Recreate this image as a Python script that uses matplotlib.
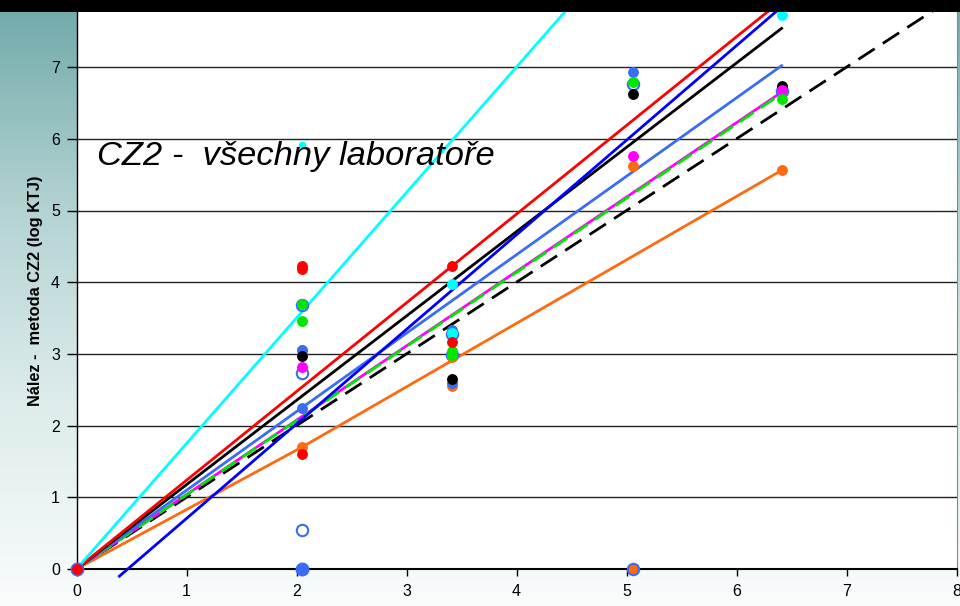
import numpy as np
import matplotlib
matplotlib.use("Agg")
import matplotlib.pyplot as plt
from matplotlib.colors import LinearSegmentedColormap
from matplotlib.patches import Rectangle

# Dilution levels (log KTJ, reference method)
x_levels = [0.0, 2.05, 3.41, 5.06, 6.41]

# Regression lines per laboratory: x and y end points
line_ident_x = [0.0, 8.0]
line_ident_y = [0.0, 8.0]
line_red_x = [0.0, 3.41, 6.41]
line_red_y = [0.0, 4.22, 7.93]
line_cyan_x = [0.0, 6.41]
line_cyan_y = [0.0, 11.22]
line_blue_x = [0.39, 6.41]
line_blue_y = [-0.10, 7.84]
line_black_x = [0.0, 6.41]
line_black_y = [0.0, 7.54]
line_lblue_x = [0.0, 2.05, 6.41]
line_lblue_y = [0.0, 2.25, 7.02]
line_magenta_x = [0.0, 6.41]
line_magenta_y = [0.0, 6.65]
line_green_x = [0.0, 6.41]
line_green_y = [0.0, 6.63]
line_orange_x = [0.0, 2.05, 6.41]
line_orange_y = [0.0, 1.70, 5.56]

# Individual results (x, y) per laboratory
pts_open_x = [2.05, 2.05, 2.05, 3.41, 3.41, 5.06, 6.41]
pts_open_y = [3.68, 2.73, 0.54, 3.28, 2.98, 6.77, 6.66]
pts_orange_x = [2.05, 2.05, 3.41, 3.41, 5.06, 5.06, 6.41]
pts_orange_y = [3.05, 1.70, 2.95, 2.55, 5.62, 0.0, 5.56]
pts_lblue_x = [0.0, 2.05, 2.05, 2.05, 3.41, 3.41, 5.06, 6.41]
pts_lblue_y = [0.0, 3.05, 2.25, 0.0, 3.33, 2.60, 6.93, 6.71]
pts_black_x = [2.05, 3.41, 5.06, 6.41]
pts_black_y = [2.97, 2.65, 6.63, 6.74]
pts_magenta_x = [2.05, 5.06, 6.41]
pts_magenta_y = [2.82, 5.76, 6.68]
pts_green_x = [2.05, 2.05, 3.41, 3.41, 5.06, 6.41]
pts_green_y = [3.69, 3.46, 3.04, 2.98, 6.79, 6.56]
pts_cyan_x = [2.05, 3.41, 3.41, 6.41]
pts_cyan_y = [5.91, 3.98, 3.29, 7.72]
pts_red_x = [0.0, 2.05, 2.05, 2.05, 3.41, 3.41]
pts_red_y = [0.0, 4.23, 4.18, 1.61, 3.17, 4.22]

x_ticks = [0, 1, 2, 3, 4, 5, 6, 7, 8]
y_ticks = [0, 1, 2, 3, 4, 5, 6, 7]

title_text = "CZ2 -  všechny laboratoře"
ylabel_text = "Nález -  metoda CZ2 (log KTJ)"

C_RED = "#ff0000"
C_CYAN = "#00ffff"
C_BLUE = "#0000ff"
C_LBLUE = "#3a6cf4"
C_MAGENTA = "#ff00ff"
C_GREEN = "#00e600"
C_ORANGE = "#ff6a10"
C_BLACK = "#000000"

plt.rcParams["font.family"] = ["Liberation Sans", "DejaVu Sans"]

W, H = 960, 606
fig = plt.figure(figsize=(W / 100, H / 100), dpi=100)

# Slide background: vertical teal-to-white gradient
bg = fig.add_axes([0, 0, 1, 1], zorder=-10)
grad_cmap = LinearSegmentedColormap.from_list(
    "slide", [(0.0, "#6fa9a9"), (0.35, "#b5d3d3"), (0.65, "#dcebeb"), (1.0, "#fafcfc")])
g = np.linspace(0, 1, 256).reshape(-1, 1)
bg.imshow(g, aspect="auto", cmap=grad_cmap, extent=[0, 1, 0, 1], origin="upper")
bg.set_axis_off()

# Plot area (its top edge lies above the slide's black header band)
px_left, px_right, px_bottom = 76.5, 956.5, 569.0
unit_y = 71.7
px_top = px_bottom - 8 * unit_y
ax = fig.add_axes([px_left / W, (H - px_bottom) / H,
                   (px_right - px_left) / W, (px_bottom - px_top) / H])
ax.set_facecolor("white")
ax.set_xlim(0, 8)
ax.set_ylim(0, 8)

for yv in y_ticks[1:]:
    ax.axhline(yv, color="#222222", lw=1.0, zorder=1)

lw = 2.0
ax.plot(line_ident_x, line_ident_y, color=C_BLACK, lw=lw, dashes=(7, 3.5), zorder=3)
ax.plot(line_orange_x, line_orange_y, color=C_ORANGE, lw=lw, zorder=3)
ax.plot(line_magenta_x, line_magenta_y, color=C_MAGENTA, lw=lw, zorder=3)
ax.plot(line_green_x, line_green_y, color=C_GREEN, lw=lw, dashes=(6, 3), zorder=3)
ax.plot(line_lblue_x, line_lblue_y, color=C_LBLUE, lw=lw, zorder=3)
ax.plot(line_black_x, line_black_y, color=C_BLACK, lw=lw, zorder=3)
ax.plot(line_blue_x, line_blue_y, color=C_BLUE, lw=lw, zorder=3, clip_on=False)
ax.plot(line_red_x, line_red_y, color=C_RED, lw=lw, zorder=3)
ax.plot(line_cyan_x, line_cyan_y, color=C_CYAN, lw=lw, zorder=3)

ms = 6.8
ax.plot(pts_open_x, pts_open_y, "o", ls="none", ms=8.2, mfc="white", mec=C_LBLUE,
        mew=1.5, zorder=4, clip_on=False)
ax.plot(pts_orange_x, pts_orange_y, "o", ls="none", ms=ms, mfc=C_ORANGE, mec=C_ORANGE,
        zorder=5, clip_on=False)
ax.plot([5.06], [0.0], "o", ls="none", ms=8.2, mfc=C_ORANGE, mec=C_LBLUE, mew=1.5,
        zorder=5, clip_on=False)
ax.plot(pts_lblue_x, pts_lblue_y, "o", ls="none", ms=ms, mfc=C_LBLUE, mec=C_LBLUE,
        zorder=5, clip_on=False)
ax.plot([2.05, 0.0], [0.0, 0.0], "o", ls="none", ms=9, mfc=C_LBLUE, mec=C_LBLUE,
        zorder=5, clip_on=False)
ax.plot(pts_black_x, pts_black_y, "o", ls="none", ms=ms, mfc=C_BLACK, mec=C_BLACK, zorder=5)
ax.plot(pts_magenta_x, pts_magenta_y, "o", ls="none", ms=ms, mfc=C_MAGENTA, mec=C_MAGENTA, zorder=5)
ax.plot(pts_green_x, pts_green_y, "o", ls="none", ms=ms, mfc=C_GREEN, mec=C_GREEN, zorder=6)
ax.plot(pts_cyan_x[1:], pts_cyan_y[1:], "o", ls="none", ms=ms, mfc=C_CYAN, mec=C_CYAN, zorder=6)
# this result sits under the caption, only its edge peeks out
ax.plot(pts_cyan_x[:1], pts_cyan_y[:1], "o", ls="none", ms=4.5, mfc=C_CYAN, mec=C_CYAN, zorder=6)
ax.plot(pts_red_x, pts_red_y, "o", ls="none", ms=ms, mfc=C_RED, mec=C_RED, zorder=6,
        clip_on=False)

ax.set_xticks(x_ticks)
ax.set_yticks(y_ticks)
ax.tick_params(axis="x", direction="out", length=5, width=1, labelsize=11.5, pad=6,
               colors="black")
ax.tick_params(axis="y", direction="out", length=7, width=1, labelsize=11.5, pad=5,
               colors="black")
ax.spines["top"].set_visible(False)
ax.spines["right"].set_color("#888888")
ax.spines["left"].set_linewidth(1.0)
ax.spines["bottom"].set_linewidth(1.5)

fig.text(36 / W, (H - 291) / H, ylabel_text, rotation=90, fontsize=11.8,
         fontweight="bold", ha="center", va="center")

fig.text(97 / W, (H - 157) / H, title_text, fontsize=24.8, style="italic",
         ha="left", va="center", zorder=20)

# Black header band across the top of the slide
fig.patches.append(Rectangle((0, (H - 12) / H), 1, 12 / H, transform=fig.transFigure,
                             facecolor="black", edgecolor="none", zorder=50))

fig.savefig("out.png", dpi=100)
